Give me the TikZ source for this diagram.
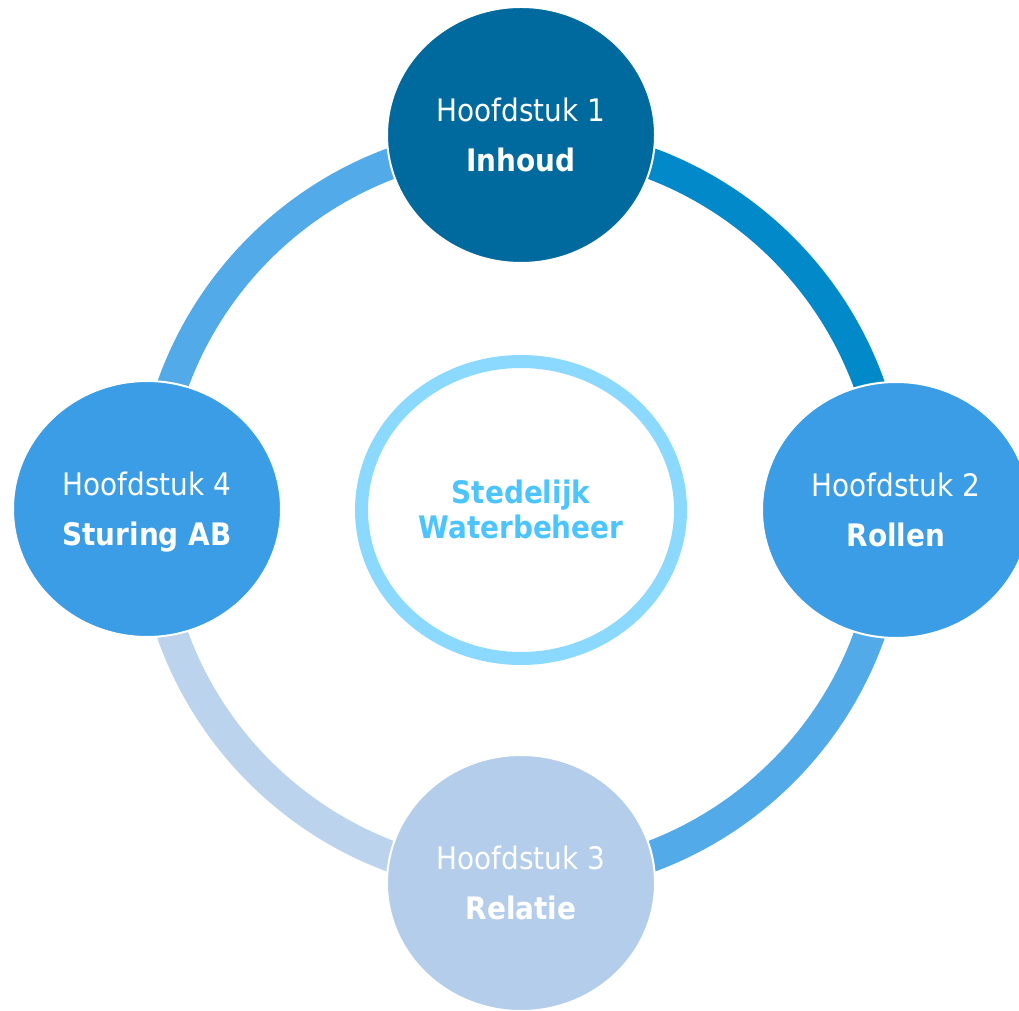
\documentclass[tikz,border=0pt]{standalone}
\usepackage{fontspec}
\setmainfont{DejaVu Sans Condensed}[BoldFont={DejaVu Sans Condensed Bold}]
\usetikzlibrary{shapes.geometric}
\definecolor{cone}{HTML}{006A9E}
\definecolor{ctwo}{HTML}{3A9DE5}
\definecolor{cthree}{HTML}{B4CDEA}
\definecolor{arcTR}{HTML}{0289CA}
\definecolor{arcMid}{HTML}{53AAE8}
\definecolor{arcBL}{HTML}{BBD3EC}
\definecolor{ringC}{HTML}{8CD9FF}
\definecolor{textC}{HTML}{4CC4FF}
\begin{document}
\begin{tikzpicture}[x=1pt,y=1pt,
  chap/.style={ellipse, minimum width=268pt, minimum height=256pt, inner sep=0pt, draw=white, line width=2pt},
  lab/.style={anchor=base, text=white, inner sep=0pt, font=\fontsize{31}{37}\selectfont},
  blab/.style={lab, font=\fontsize{31}{37}\selectfont\bfseries},
  ringarc/.style={line width=31pt, line cap=butt}]
\useasboundingbox (0,0) rectangle (1019,1010);
\clip (0,0) rectangle (1019,1010);
\coordinate (c) at (521,500);
% ring segments
\draw[ringarc, arcMid] ([shift={(90:370)}]c) arc[start angle=90, end angle=180, radius=370];
\draw[ringarc, arcTR] ([shift={(0:370)}]c) arc[start angle=0, end angle=90, radius=370];
\draw[ringarc, arcMid] ([shift={(270:370)}]c) arc[start angle=270, end angle=360, radius=370];
\draw[ringarc, arcBL] ([shift={(180:370)}]c) arc[start angle=180, end angle=270, radius=370];
% chapter circles
\node[chap, fill=cone] (h1) at (521,875) {};
\node[chap, fill=ctwo] (h2) at (896,500) {};
\node[chap, fill=cthree] (h3) at (521,127) {};
\node[chap, fill=ctwo] (h4) at (147,501) {};
% center ring
\node[ellipse, minimum width=319pt, minimum height=297pt, inner sep=0pt, draw=ringC, line width=13pt, fill=white] (mid) at (521,500) {};
% labels
\node[lab] (h1a) at ([yshift=13.7]h1.center) {Hoofdstuk 1};
\node[blab] (h1b) at ([yshift=-36.3]h1.center) {Inhoud};
\node[lab] (h2a) at ([yshift=13.7]h2.center) {Hoofdstuk 2};
\node[blab] (h2b) at ([yshift=-36.3]h2.center) {Rollen};
\node[lab] (h3a) at ([yshift=13.7]h3.center) {Hoofdstuk 3};
\node[blab] (h3b) at ([yshift=-36.3]h3.center) {Relatie};
\node[lab] (h4a) at ([yshift=13.7]h4.center) {Hoofdstuk 4};
\node[blab] (h4b) at ([yshift=-36.3]h4.center) {Sturing AB};
\node[blab, text=textC] (m1) at ([yshift=6.7]mid.center) {Stedelijk};
\node[blab, text=textC] (m2) at ([yshift=-28.3]mid.center) {Waterbeheer};
\end{tikzpicture}
\end{document}
